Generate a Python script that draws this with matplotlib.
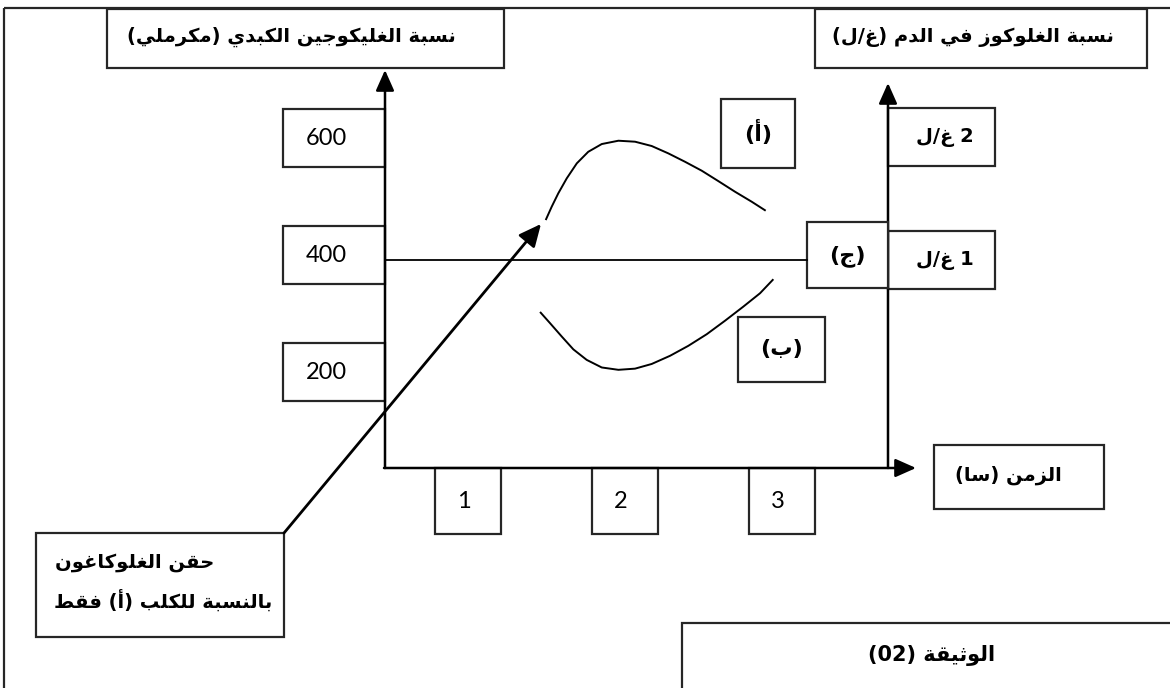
import matplotlib
matplotlib.use("Agg")
import matplotlib.pyplot as plt
from matplotlib.patches import Rectangle

# ---------------- data ----------------
hours = [1, 2, 3]
hour_labels = ["1", "2", "3"]
glycogen_ticks = [200, 400, 600]
glycogen_labels = ["200", "400", "600"]
glucose_ticks = [2, 1]
glucose_labels = ["2 غ/ل", "1 غ/ل"]

curve_a_t = [1.498, 1.536, 1.578, 1.632, 1.696, 1.769, 1.855, 1.961, 2.067, 2.173,
             2.279, 2.385, 2.492, 2.597, 2.704, 2.810, 2.899]
curve_a_glucose = [1.325, 1.433, 1.542, 1.664, 1.786, 1.880, 1.943, 1.970, 1.962, 1.927,
                   1.867, 1.799, 1.726, 1.642, 1.555, 1.474, 1.401]

curve_b_t = [1.462, 1.525, 1.600, 1.674, 1.759, 1.855, 1.961, 2.067, 2.173, 2.290,
             2.406, 2.524, 2.640, 2.756, 2.863, 2.948]
curve_b_glycogen = [303, 284, 261, 239, 221, 208, 204, 206, 214, 228,
                    245, 265, 288, 312, 335, 359]

curve_c_t = [0.47, 3.16]
curve_c_glucose = [1.0, 1.0]

injection_t = 1.468
injection_glucose = 1.293

title_left = "نسبة الغليكوجين الكبدي (مكرملي)"
title_right = "نسبة الغلوكوز في الدم (غ/ل)"
time_label = "الزمن (سا)"
label_a = "(أ)"
label_b = "(ب)"
label_c = "(ج)"
note_line1 = "حقن الغلوكاغون"
note_line2 = "بالنسبة للكلب (أ) فقط"
doc_label = "الوثيقة (02)"

# ---------------- Arabic shaping (presentation forms) ----------------
_BASE = {
    '\u0621': (0xFE80, 'N'), '\u0622': (0xFE81, 'R'), '\u0623': (0xFE83, 'R'),
    '\u0624': (0xFE85, 'R'), '\u0625': (0xFE87, 'R'), '\u0626': (0xFE89, 'D'),
    '\u0627': (0xFE8D, 'R'), '\u0628': (0xFE8F, 'D'), '\u0629': (0xFE93, 'R'),
    '\u062A': (0xFE95, 'D'), '\u062B': (0xFE99, 'D'), '\u062C': (0xFE9D, 'D'),
    '\u062D': (0xFEA1, 'D'), '\u062E': (0xFEA5, 'D'), '\u062F': (0xFEA9, 'R'),
    '\u0630': (0xFEAB, 'R'), '\u0631': (0xFEAD, 'R'), '\u0632': (0xFEAF, 'R'),
    '\u0633': (0xFEB1, 'D'), '\u0634': (0xFEB5, 'D'), '\u0635': (0xFEB9, 'D'),
    '\u0636': (0xFEBD, 'D'), '\u0637': (0xFEC1, 'D'), '\u0638': (0xFEC5, 'D'),
    '\u0639': (0xFEC9, 'D'), '\u063A': (0xFECD, 'D'), '\u0641': (0xFED1, 'D'),
    '\u0642': (0xFED5, 'D'), '\u0643': (0xFED9, 'D'), '\u0644': (0xFEDD, 'D'),
    '\u0645': (0xFEE1, 'D'), '\u0646': (0xFEE5, 'D'), '\u0647': (0xFEE9, 'D'),
    '\u0648': (0xFEED, 'R'), '\u0649': (0xFEEF, 'R'), '\u064A': (0xFEF1, 'D'),
}
_LAM_ALEF = {'\u0622': 0xFEF5, '\u0623': 0xFEF7, '\u0625': 0xFEF9, '\u0627': 0xFEFB}


def shape_ar(s):
    toks = []
    i = 0
    while i < len(s):
        c = s[i]
        if c == '\u0644' and i + 1 < len(s) and s[i + 1] in _LAM_ALEF:
            toks.append((_LAM_ALEF[s[i + 1]], 'L'))
            i += 2
        elif c in _BASE:
            toks.append(_BASE[c])
            i += 1
        else:
            toks.append((c, None))
            i += 1
    out = []
    for k, (b, jt) in enumerate(toks):
        if jt is None:
            out.append(b)
            continue
        prev_j = k > 0 and toks[k - 1][1] == 'D'
        next_j = jt == 'D' and k + 1 < len(toks) and toks[k + 1][1] in ('D', 'R', 'L')
        if jt == 'N':
            out.append(chr(b))
        elif jt in ('R', 'L'):
            out.append(chr(b + 1) if prev_j else chr(b))
        else:
            if prev_j and next_j:
                out.append(chr(b + 3))
            elif prev_j:
                out.append(chr(b + 1))
            elif next_j:
                out.append(chr(b + 2))
            else:
                out.append(chr(b))
    vis = ''.join(out)[::-1]
    vis = vis.translate(str.maketrans('()', ')('))
    res, run = [], []
    for ch in vis:
        if ch.isdigit():
            run.append(ch)
        else:
            if run:
                res.extend(run[::-1])
                run = []
            res.append(ch)
    if run:
        res.extend(run[::-1])
    return ''.join(res)


AR_FONT = dict(family="DejaVu Sans", fontweight="bold")
NUM_FONT = dict(family="Lato")

# ---------------- figure ----------------
W, H = 1170, 688
fig = plt.figure(figsize=(W / 100, H / 100), dpi=100)
fig.patch.set_facecolor("white")
L = fig.add_axes([0, 0, 1, 1])
L.set_xlim(0, W)
L.set_ylim(H, 0)
L.axis("off")

AX_L, AX_R, AX_B, AX_T = 385, 888, 468, 70
ax = fig.add_axes([AX_L / W, (H - AX_B) / H, (AX_R - AX_L) / W, (AX_B - AX_T) / H])
ax.set_xlim(0.4745, 3.678)
ax.set_ylim(-0.691, 2.545)
ax.axis("off")
ax.patch.set_alpha(0)
ax2 = ax.twinx()
ax2.set_ylim(36, 717)
ax2.axis("off")
ax2.patch.set_alpha(0)

EDGE = "#262626"
BOX_LW = 1.6


def to_px(axes, x, y):
    d = axes.transData.transform((x, y))
    return L.transData.inverted().transform(d)


def box(x0, y0, x1, y1, z=3):
    L.add_patch(Rectangle((x0, y0), x1 - x0, y1 - y0, fill=True, facecolor="white",
                          edgecolor=EDGE, lw=BOX_LW, zorder=z))


def artext(x, y, s, size=14, **kw):
    L.text(x, y, shape_ar(s), ha="center", va="center", fontsize=size, zorder=6,
           color="black", **AR_FONT, **kw)


# outer frame
L.plot([4, W], [8, 8], color=EDGE, lw=1.6, zorder=1, solid_capstyle="butt")
L.plot([4, 4], [8, H], color=EDGE, lw=1.6, zorder=1, solid_capstyle="butt")

# axes arrows
arrow_kw = dict(arrowstyle="-|>,head_length=0.9,head_width=0.4", lw=1.8, color="black",
                shrinkA=0, shrinkB=0, mutation_scale=14)
L.annotate("", xy=(AX_L, AX_T), xytext=(AX_L, AX_B), arrowprops=arrow_kw, zorder=4)
L.annotate("", xy=(AX_R, 83), xytext=(AX_R, AX_B), arrowprops=arrow_kw, zorder=4)
L.annotate("", xy=(916, AX_B), xytext=(AX_L - 1, AX_B), arrowprops=arrow_kw, zorder=4)

# axis titles
box(107, 9, 504, 68)
artext(291, 37, title_left, size=14)
box(815, 9, 1147, 68)
artext(973, 37, title_right, size=14)
box(934, 445, 1104, 509)
artext(1008, 475, time_label, size=14)

# glycogen tick boxes (left)
for v, lab in zip(glycogen_ticks, glycogen_labels):
    _, yc = to_px(ax2, 1.0, v)
    box(283, yc - 29, AX_L, yc + 29)
    L.text(326, yc, lab, ha="center", va="center", fontsize=17, zorder=6, **NUM_FONT)

# glucose tick boxes (right)
for v, lab in zip(glucose_ticks, glucose_labels):
    _, yc = to_px(ax, 1.0, v)
    box(AX_R, yc - 29, 995, yc + 29)
    artext(945, yc, lab, size=14)

# hour tick boxes
for t, lab in zip(hours, hour_labels):
    xc, _ = to_px(ax, t, 0)
    box(xc - 33, AX_B, xc + 33, 534)
    L.text(xc - 4, 502, lab, ha="center", va="center", fontsize=17, zorder=6, **NUM_FONT)

# curves
ax.plot(curve_a_t, curve_a_glucose, color="black", lw=1.4, zorder=3,
        solid_joinstyle="round", solid_capstyle="butt")
ax2.plot(curve_b_t, curve_b_glycogen, color="black", lw=1.4, zorder=3,
         solid_joinstyle="round", solid_capstyle="butt")
ax.plot(curve_c_t, curve_c_glucose, color="black", lw=1.3, zorder=3)

# curve labels
box(721, 99, 795, 168)
artext(758, 132, label_a, size=16)
box(738, 317, 825, 382)
artext(782, 349, label_b, size=16)
box(807, 222, 888, 288, z=5)
artext(847, 256, label_c, size=16)

# glucagon injection note + arrow
box(36, 533, 284, 637)
artext(135, 563, note_line1, size=14)
artext(163, 601, note_line2, size=14)
tip = to_px(ax, injection_t, injection_glucose)
L.annotate("", xy=tip, xytext=(284, 533),
           arrowprops=dict(arrowstyle="-|>,head_length=0.9,head_width=0.42", lw=2.0,
                           color="black", shrinkA=0, shrinkB=0, mutation_scale=15), zorder=4)

# document label
L.add_patch(Rectangle((682, 623), W - 682 + 5, 80, facecolor="white", edgecolor=EDGE,
                      lw=BOX_LW, zorder=3))
artext(932, 655, doc_label, size=15)

fig.savefig("out.png", dpi=100, facecolor="white")
